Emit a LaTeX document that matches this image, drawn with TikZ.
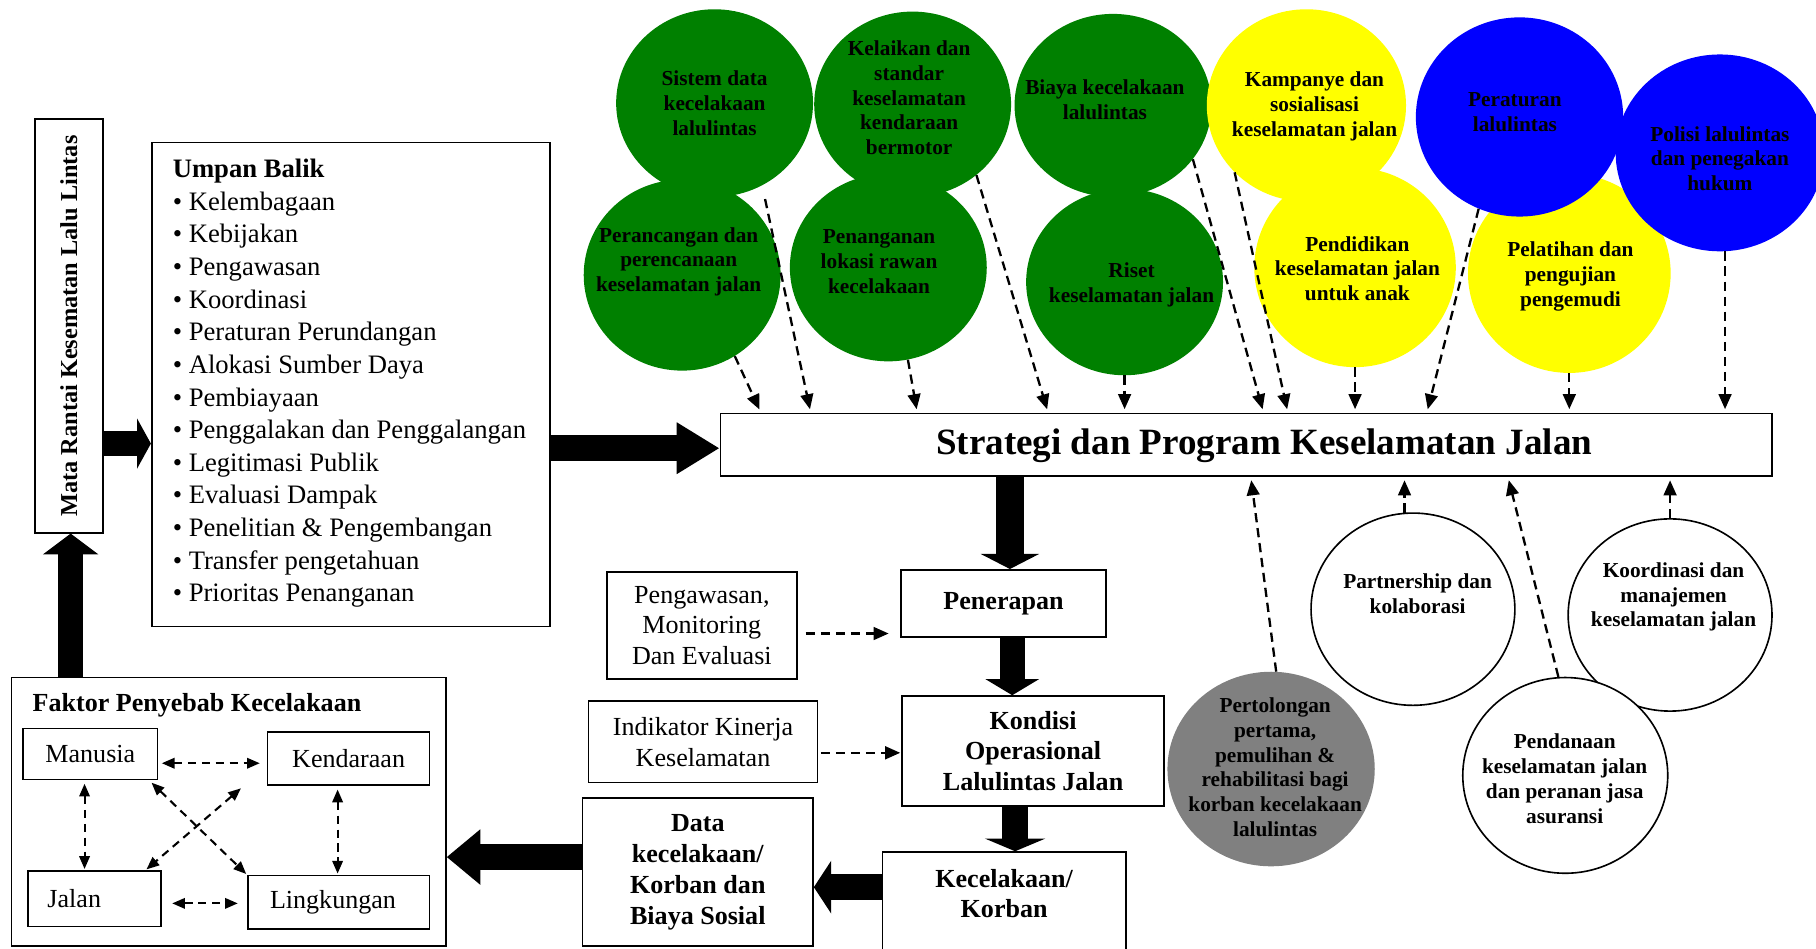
\documentclass[tikz,border=0pt]{standalone}
\usepackage{fontspec}
\setmainfont{Liberation Serif}
\usepackage{xcolor}
\usepackage{tikz}
\usetikzlibrary{positioning,arrows.meta,shapes.geometric}

\newcommand\ubfont{\fontsize{23}{28.2}\selectfont}
\newcommand\bxfont{\fontsize{22.5}{26.6}\selectfont}
\newcommand\bubfont{\fontsize{18.4}{21.4}\selectfont\bfseries}
\newcommand\ttlfont{\fontsize{32}{38}\selectfont\bfseries}

\definecolor{bgreen}{HTML}{008000}
\definecolor{bblue}{HTML}{0000FF}
\definecolor{byellow}{HTML}{FFFF00}
\definecolor{bgray}{HTML}{808080}

\begin{document}
\begin{tikzpicture}
		[x=1pt,y=-1pt,
		box/.style={draw,line width=1.4pt,inner sep=0pt,align=center,font=\bxfont},
		bbox/.style={box,font=\bxfont\bfseries},
		bubble/.style={ellipse,inner sep=0pt},
		wbubble/.style={bubble,draw,fill=white,line width=1.4pt},
		btext/.style={align=center,inner sep=0pt,font=\bubfont},
		fat/.style={line width=22pt,-{Triangle[length=14pt,width=46pt]}},
		dasharr/.style={line width=2pt,dash pattern=on 8pt off 5pt,-{Triangle[length=13pt,width=11pt]},shorten >=3pt},
		dblarr/.style={line width=1.8pt,dash pattern=on 7pt off 5pt,{Triangle[length=11pt,width=9pt]}-{Triangle[length=11pt,width=9pt]},shorten <=3pt,shorten >=3pt}]
		\useasboundingbox (0,0) rectangle (1568,819);
		\clip (0,0) rectangle (1568,819);

		% kiri
		\node[bbox,rotate=90,minimum width=357,minimum height=59,font=\fontsize{21}{25}\selectfont\bfseries] (mata) at (59.5,281.5) {Mata Rantai Kesematan Lalu Lintas};
		\node[box,minimum width=344,minimum height=418] (umpan) at (303,332) {};
		\node[anchor=north west,align=left,inner sep=0pt,font=\ubfont] (umpan-t) at (149,137)
			{\textbf{Umpan Balik}\\
			\textbullet\ Kelembagaan\\
			\textbullet\ Kebijakan\\
			\textbullet\ Pengawasan\\
			\textbullet\ Koordinasi\\
			\textbullet\ Peraturan Perundangan\\
			\textbullet\ Alokasi Sumber Daya\\
			\textbullet\ Pembiayaan\\
			\textbullet\ Penggalakan dan Penggalangan\\
			\textbullet\ Legitimasi Publik\\
			\textbullet\ Evaluasi Dampak\\
			\textbullet\ Penelitian \& Pengembangan\\
			\textbullet\ Transfer pengetahuan\\
			\textbullet\ Prioritas Penanganan};

		% faktor penyebab
		\node[box,minimum width=375,minimum height=232] (faktor) at (197.5,701) {};
		\node[anchor=west,inner sep=0pt,font=\bxfont\bfseries] (faktor-t) at (28,609) {Faktor Penyebab Kecelakaan};
		\node[box,minimum width=116,minimum height=44] (manusia) at (78,651) {Manusia};
		\node[box,minimum width=140,minimum height=46] (kendaraan) at (301,655) {Kendaraan};
		\node[box,minimum width=115,minimum height=48,text width=81,inner xsep=17,align=left] (jalan) at (81.5,776) {Jalan};
		\node[box,minimum width=157,minimum height=46] (lingkungan) at (292.5,779) {\hspace*{-10pt}Lingkungan};

		% tengah
		\node[box,minimum width=908,minimum height=54] (strategi) at (1076,384) {};
		\node[font=\ttlfont,inner sep=0pt] (strategi-t) at (1091.5,385) {Strategi dan Program Keselamatan Jalan};
		\node[bbox,minimum width=177,minimum height=58] (penerapan) at (866.5,521) {Penerapan};
		\node[bbox,minimum width=226,minimum height=95] (kondisi) at (892,648.5) {Kondisi\\Operasional\\Lalulintas Jalan};
		\node[box,minimum width=210,minimum height=130,anchor=north] (kecelakaan) at (867,735) {};
		\node[inner sep=0pt,align=center,font=\bxfont\bfseries] (kecelakaan-t) at (867,771.5) {Kecelakaan/\\Korban};
		\node[bbox,minimum width=199,minimum height=128] (data) at (602.5,753) {Data\\kecelakaan/\\Korban dan\\Biaya Sosial};
		\node[box,minimum width=164,minimum height=92] (awas) at (606,540) {Pengawasan,\\Monitoring\\Dan Evaluasi};
		\node[box,minimum width=198,minimum height=70] (indikator) at (607,640.5) {Indikator Kinerja\\Keselamatan};

		% lingkaran atas
		\node[bubble,fill=bgreen,minimum width=170,minimum height=162] (sistem) at (617,89) {};
		\node[bubble,fill=bgreen,minimum width=170,minimum height=160] (kelaikan) at (788,90) {};
		\node[bubble,fill=bgreen,minimum width=170,minimum height=158] (biaya) at (961,91) {};
		\node[bubble,fill=bgreen,minimum width=170,minimum height=165] (peranc) at (589,237.5) {};
		\node[bubble,fill=bgreen,minimum width=170,minimum height=162] (penanganan) at (767,231) {};
		\node[bubble,fill=bgreen,minimum width=170,minimum height=161] (riset) at (971,243.5) {};
		\node[bubble,fill=byellow,minimum width=172,minimum height=166] (kampanye) at (1128,91) {};
		\node[bubble,fill=byellow,minimum width=174,minimum height=172] (pendidikan) at (1170,231) {};
		\node[bubble,fill=byellow,minimum width=175,minimum height=172] (pelatihan) at (1355,236) {};
		\node[bubble,fill=bblue,minimum width=179,minimum height=172] (peraturan) at (1312,101) {};
		\node[bubble,fill=bblue,minimum width=180,minimum height=170] (polisi) at (1485,132) {};

		\node[btext] (sistem-t) at (617,89) {Sistem data\\kecelakaan\\lalulintas};
		\node[btext] (kelaikan-t) at (785,84.5) {Kelaikan dan\\standar\\keselamatan\\kendaraan\\bermotor};
		\node[btext] (biaya-t) at (954,86) {Biaya kecelakaan\\lalulintas};
		\node[btext] (peranc-t) at (586,226) {Perancangan dan\\perencanaan\\keselamatan jalan};
		\node[btext] (penanganan-t) at (759,226) {Penanganan\\lokasi rawan\\kecelakaan};
		\node[btext] (riset-t) at (977,246) {Riset\\keselamatan jalan};
		\node[btext] (kampanye-t) at (1135,92) {Kampanye dan\\sosialisasi\\keselamatan jalan};
		\node[btext] (pendidikan-t) at (1172,232) {Pendidikan\\keselamatan jalan\\untuk anak};
		\node[btext] (pelatihan-t) at (1356,238.5) {Pelatihan dan\\pengujian\\pengemudi};
		\node[btext] (peraturan-t) at (1308,97) {Peraturan\\lalulintas};
		\node[btext] (polisi-t) at (1485,137) {Polisi lalulintas\\dan penegakan\\hukum};

		% lingkaran bawah
		\node[bubble,fill=bgray,minimum width=179,minimum height=168] (pertolongan) at (1097.5,664) {};
		\node[wbubble,minimum width=176,minimum height=166] (partner) at (1220,526) {};
		\node[wbubble,minimum width=176,minimum height=166] (koord) at (1442,531) {};
		\node[wbubble,minimum width=177,minimum height=169] (pendanaan) at (1351.5,669.5) {};

		\node[btext] (pertolongan-t) at (1101,662.5) {Pertolongan\\pertama,\\pemulihan \&\\rehabilitasi bagi\\korban kecelakaan\\lalulintas};
		\node[btext] (partner-t) at (1224,512.5) {Partnership dan\\kolaborasi};
		\node[btext] (koord-t) at (1445,515.5) {Koordinasi dan\\manajemen\\keselamatan jalan};
		\node[btext] (pendanaan-t) at (1351,672.5) {Pendanaan\\keselamatan jalan\\dan peranan jasa\\asuransi};

		% panah tebal
		\draw[fat,line width=21pt,-{Triangle[length=12pt,width=43pt]}] (mata.south |- 0,383) -- (umpan.west |- 0,383);
		\draw[fat,-{Triangle[length=37pt,width=42pt]}] (umpan.east |- 0,387) -- (strategi.west |- 0,387);
		\draw[fat,line width=24pt,-{Triangle[length=13pt,width=50pt]}] (strategi.south -| 872,0) -- (penerapan.north -| 872,0);
		\draw[fat] (penerapan.south -| 874,0) -- (kondisi.north -| 874,0);
		\draw[fat,-{Triangle[length=11pt,width=52pt]}] (kondisi.south -| 876.5,0) -- (kecelakaan.north -| 876.5,0);
		\draw[fat,line width=23pt,-{Triangle[length=15pt,width=45pt]}] (kecelakaan.west |- 0,766) -- (data.east |- 0,766);
		\draw[fat,line width=23pt,-{Triangle[length=29pt,width=46pt]}] (data.west |- 0,740) -- (faktor.east |- 0,740);
		\draw[fat,-{Triangle[length=18pt,width=47pt]}] (faktor.north -| 61,0) -- (mata.west -| 61,0);

		% panah putus-putus ke strategi
		\draw[dasharr] (peranc.-57) -- (657,0 |- strategi.north);
		\draw[dasharr,shorten <=12pt] (sistem.-60) -- (700,0 |- strategi.north);
		\draw[dasharr] (penanganan.-78) -- (792,0 |- strategi.north);
		\draw[dasharr] (kelaikan.-48) -- (905,0 |- strategi.north);
		\draw[dasharr] (riset.south) -- (riset.south |- strategi.north);
		\draw[dasharr] (biaya.-34) -- (1091,0 |- strategi.north);
		\draw[dasharr] (kampanye.-137) -- (1112,0 |- strategi.north);
		\draw[dasharr] (pendidikan.south) -- (pendidikan.south |- strategi.north);
		\draw[dasharr] (peraturan.-114) -- (1232,0 |- strategi.north);
		\draw[dasharr] (pelatihan.south) -- (pelatihan.south |- strategi.north);
		\draw[dasharr] (polisi.-87) -- (polisi.-87 |- strategi.north);
		\draw[dasharr] (pertolongan.87) -- (1080,0 |- strategi.south);
		\draw[dasharr] (partner.95) -- (partner.95 |- strategi.south);
		\draw[dasharr] (pendanaan.94) -- (1302,0 |- strategi.south);
		\draw[dasharr] (koord.north) -- (koord.north |- strategi.south);
		\draw[dasharr,shorten <=7pt,shorten >=10pt] (awas.east |- 0,547) -- (penerapan.west |- 0,547);
		\draw[dasharr,shorten <=2pt,shorten >=1pt] (indikator.east |- 0,650) -- (kondisi.west |- 0,650);

		% hubungan faktor
		\draw[dblarr,shorten >=6pt] (manusia.east |- 0,659) -- (kendaraan.west |- 0,659);
		\draw[dblarr,shorten <=9pt,shorten >=8pt] (jalan.east |- 0,780) -- (lingkungan.west |- 0,780);
		\draw[dblarr,shorten >=1pt] (manusia.south -| 73,0) -- (jalan.north -| 73,0);
		\draw[dblarr,shorten >=1pt] (kendaraan.south -| 291.5,0) -- (lingkungan.north -| 291.5,0);
		\draw[dblarr,shorten >=1pt] ([xshift=-8pt]manusia.south east) -- (lingkungan.north west);
		\draw[dblarr,shorten >=1pt] ([xshift=-20pt]kendaraan.south west) -- ([xshift=-14pt]jalan.north east);
\end{tikzpicture}
\end{document}
